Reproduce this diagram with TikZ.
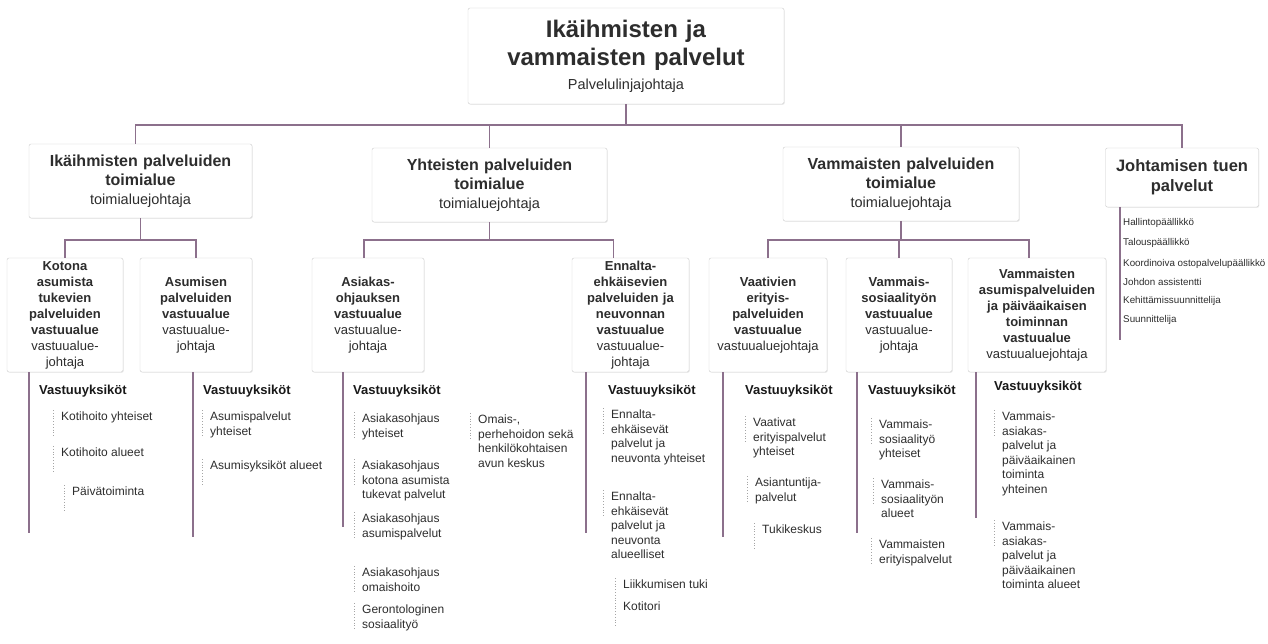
\documentclass[tikz,border=0pt]{standalone}
\usepackage{fontspec}
\setmainfont{Liberation Sans}
\usetikzlibrary{positioning, calc, shadows}
\usepackage{xcolor}

\definecolor{linkline}{RGB}{140,112,140}
\definecolor{boxedge}{RGB}{204,204,204}
\definecolor{txt}{RGB}{45,45,45}
\definecolor{dotgray}{RGB}{165,165,165}

\tikzset{
  orgbox/.style={draw=boxedge, rounded corners=2pt, fill=white, align=center, inner sep=2pt, text=txt,
                 drop shadow={shadow xshift=0.8pt, shadow yshift=-0.8pt, opacity=0.15}},
  divbox/.style={orgbox, minimum height=74pt, font=\fontsize{16}{19}\selectfont},
  areabox/.style={orgbox, minimum height=114pt, font=\fontsize{13}{16}\selectfont},
  link/.style={draw=linkline, line width=1.2pt},
  unithead/.style={anchor=base west, inner sep=0pt, font=\fontsize{13}{16}\selectfont\bfseries, text=black!90},
  unit/.style={anchor=north west, inner sep=0pt, align=left, font=\fontsize{12}{14.5}\selectfont, text=txt},
  staff/.style={anchor=base west, inner sep=0pt, font=\fontsize{9.8}{11}\selectfont, text=txt},
  tick/.style={draw=dotgray, dotted, line width=0.8pt},
}

\begin{document}
\begin{tikzpicture}[x=1pt, y=-1pt]
  \useasboundingbox (0,0) rectangle (1268,644);

  % palvelulinja
  \node[orgbox, minimum width=316pt, minimum height=96pt, text width=310pt,
        font=\fontsize{24}{28}\selectfont] (top) at (626,56)
    {\textbf{Ikäihmisten ja}\\\textbf{vammaisten palvelut}\\[-4pt]
     {\fontsize{14.5}{17}\selectfont Palvelulinjajohtaja}};

  % toimialueet
  \node[divbox, minimum width=223pt, text width=217pt] (ika) at (140.5,181)
    {\textbf{Ikäihmisten palveluiden}\\\textbf{toimialue}\\{\fontsize{14.5}{17}\selectfont toimialuejohtaja}};
  \node[divbox, minimum width=235pt, text width=229pt] (yht) at (489.5,185)
    {\textbf{Yhteisten palveluiden}\\\textbf{toimialue}\\{\fontsize{14.5}{17}\selectfont toimialuejohtaja}};
  \node[divbox, minimum width=236pt, text width=230pt] (vam) at (901,184)
    {\textbf{Vammaisten palveluiden}\\\textbf{toimialue}\\{\fontsize{14.5}{17}\selectfont toimialuejohtaja}};
  \node[orgbox, minimum width=153pt, minimum height=59pt, text width=147pt,
        font=\fontsize{16.5}{20}\selectfont] (joh) at (1182,177.5)
    {\textbf{Johtamisen tuen}\\\textbf{palvelut}};

  % vastuualueet
  \node[areabox, minimum width=116pt, text width=110pt] (kot) at (65,315)
    {\textbf{Kotona}\\\textbf{asumista}\\\textbf{tukevien}\\\textbf{palveluiden}\\\textbf{vastuualue}\\vastuualue-\\johtaja};
  \node[areabox, minimum width=112pt, text width=106pt] (asu) at (196,315)
    {\textbf{Asumisen}\\\textbf{palveluiden}\\\textbf{vastuualue}\\vastuualue-\\johtaja};
  \node[areabox, minimum width=112pt, text width=106pt] (ohj) at (368,315)
    {\textbf{Asiakas-}\\\textbf{ohjauksen}\\\textbf{vastuualue}\\vastuualue-\\johtaja};
  \node[areabox, minimum width=117pt, text width=111pt] (enn) at (630.5,315)
    {\textbf{Ennalta-}\\\textbf{ehkäisevien}\\\textbf{palveluiden ja}\\\textbf{neuvonnan}\\\textbf{vastuualue}\\vastuualue-\\johtaja};
  \node[areabox, minimum width=118pt, text width=112pt] (vaa) at (768,315)
    {\textbf{Vaativien}\\\textbf{erityis-}\\\textbf{palveluiden}\\\textbf{vastuualue}\\vastuualuejohtaja};
  \node[areabox, minimum width=106pt, text width=100pt] (sos) at (899,315)
    {\textbf{Vammais-}\\\textbf{sosiaalityön}\\\textbf{vastuualue}\\vastuualue-\\johtaja};
  \node[areabox, minimum width=138pt, text width=132pt] (paa) at (1037,315)
    {\textbf{Vammaisten}\\\textbf{asumispalveluiden}\\\textbf{ja päiväaikaisen}\\\textbf{toiminnan}\\\textbf{vastuualue}\\vastuualuejohtaja};

  % kokoojalinjat
  \coordinate (bus) at (0,125);
  \coordinate (subbus) at (0,240);
  \foreach \d in {yht,vam,joh}
    \draw[link] (top.south) -- (top.south |- bus) -| (\d.north);
  \draw[link] (top.south) -- (top.south |- bus) -| ([xshift=-5pt]ika.north);
  \draw[link] (ika.south) -- (ika.south |- subbus) -| (kot.north);
  \draw[link] (ika.south) -- (ika.south |- subbus) -| (asu.north);
  \draw[link] (yht.south) -- (yht.south |- subbus) -| ([xshift=-4pt]ohj.north);
  \draw[link] (yht.south) -- (yht.south |- subbus) -| ([xshift=-17pt]enn.north);
  \draw[link] (vam.south) -- (vam.south |- subbus) -| (vaa.north);
  \draw[link] (vam.south) -- (vam.south |- subbus) -| (sos.north);
  \draw[link] (vam.south) -- (vam.south |- subbus) -| ([xshift=-8pt]paa.north);

  % vastuuyksiköiden rungot
  \coordinate (kotend) at (29,533);
  \coordinate (asuend) at (193,537);
  \coordinate (ohjend) at (343,527);
  \coordinate (ennend) at (586,533);
  \coordinate (vaaend) at (723,537);
  \coordinate (sosend) at (857,533);
  \coordinate (paaend) at (976,518);
  \coordinate (johend) at (1120,340);
  \foreach \a in {kot,asu,ohj,enn,vaa,sos,paa,joh}
    \draw[link] (\a.south -| \a end) -- (\a end);

  % otsikot
  \node[unithead] (kothd) at (39,394) {Vastuuyksiköt};
  \node[unithead] (asuhd) at (203,394) {Vastuuyksiköt};
  \node[unithead] (ohjhd) at (353,394) {Vastuuyksiköt};
  \node[unithead] (ennhd) at (608,394) {Vastuuyksiköt};
  \node[unithead] (vaahd) at (745,394) {Vastuuyksiköt};
  \node[unithead] (soshd) at (868,394) {Vastuuyksiköt};
  \node[unithead] (paahd) at (994,390) {Vastuuyksiköt};

  % vastuuyksiköt
  \node[unit] (kot1) at (61,412) {Kotihoito yhteiset};
  \node[unit] (kot2) at (61,448) {Kotihoito alueet};
  \node[unit] (kot3) at (72,487) {Päivätoiminta};

  \node[unit] (asu1) at (210,412) {Asumispalvelut\\yhteiset};
  \node[unit] (asu2) at (210,461) {Asumisyksiköt alueet};

  \node[unit] (ohj1) at (362,414) {Asiakasohjaus\\yhteiset};
  \node[unit] (ohj2) at (362,461) {Asiakasohjaus\\kotona asumista\\tukevat palvelut};
  \node[unit] (ohj3) at (362,514) {Asiakasohjaus\\asumispalvelut};
  \node[unit] (ohj4) at (362,568) {Asiakasohjaus\\omaishoito};
  \node[unit] (ohj5) at (362,605) {Gerontologinen\\sosiaalityö};
  \node[unit] (oma1) at (478,415) {Omais-,\\perhehoidon sekä\\henkilökohtaisen\\avun keskus};

  \node[unit] (enn1) at (611,410) {Ennalta-\\ehkäisevät\\palvelut ja\\neuvonta yhteiset};
  \node[unit] (enn2) at (611,492) {Ennalta-\\ehkäisevät\\palvelut ja\\neuvonta\\alueelliset};
  \node[unit] (enn3) at (623,580) {Liikkumisen tuki};
  \node[unit] (enn4) at (623,602) {Kotitori};

  \node[unit] (vaa1) at (753,418) {Vaativat\\erityispalvelut\\yhteiset};
  \node[unit] (vaa2) at (755,478) {Asiantuntija-\\palvelut};
  \node[unit] (vaa3) at (762,525) {Tukikeskus};

  \node[unit] (sos1) at (879,420) {Vammais-\\sosiaalityö\\yhteiset};
  \node[unit] (sos2) at (881,480) {Vammais-\\sosiaalityön\\alueet};
  \node[unit] (sos3) at (879,540) {Vammaisten\\erityispalvelut};

  \node[unit] (paa1) at (1002,412) {Vammais-\\asiakas-\\palvelut ja\\päiväaikainen\\toiminta\\yhteinen};
  \node[unit] (paa2) at (1002,522) {Vammais-\\asiakas-\\palvelut ja\\päiväaikainen\\toiminta alueet};

  \foreach \u in {kot1,kot2,kot3,asu1,asu2,ohj1,ohj2,ohj3,ohj4,ohj5,oma1,
                  enn1,enn2,enn3,enn4,vaa1,vaa2,vaa3,sos1,sos2,sos3,paa1,paa2}
    \draw[tick] ([xshift=-8pt,yshift=2pt]\u.north west) -- ++(0,27);

  % johtamisen tuki
  \node[staff] (joh1) at (1123,226) {Hallintopäällikkö};
  \node[staff] (joh2) at (1123,246) {Talouspäällikkö};
  \node[staff] (joh3) at (1123,266) {Koordinoiva ostopalvelupäällikkö};
  \node[staff] (joh4) at (1123,285) {Johdon assistentti};
  \node[staff] (joh5) at (1123,303) {Kehittämissuunnittelija};
  \node[staff] (joh6) at (1123,322) {Suunnittelija};
\end{tikzpicture}
\end{document}
